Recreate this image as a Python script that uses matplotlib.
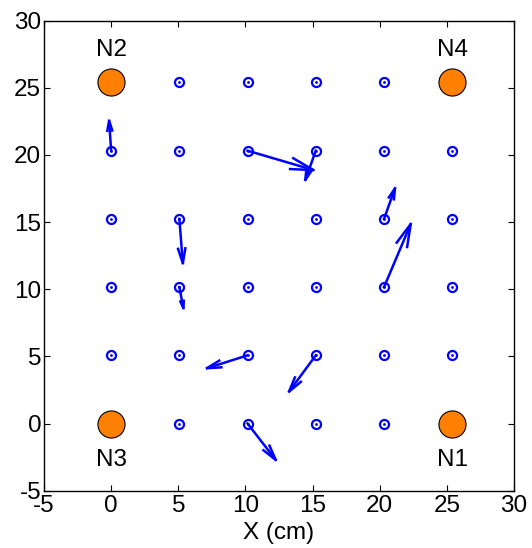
import numpy as np
import matplotlib
matplotlib.use("Agg")
import matplotlib.pyplot as plt

plt.rcParams['font.family'] = ['Liberation Sans', 'DejaVu Sans']
plt.rcParams['axes.unicode_minus'] = False

# Sensor grid (2-inch spacing in cm)
grid_vals = [0, 5.08, 10.16, 15.24, 20.32, 25.4]

# Node (anchor) positions and labels
node_x = [25.4, 0, 0, 25.4]
node_y = [0, 25.4, 0, 25.4]
node_labels = ["N1", "N2", "N3", "N4"]
node_label_y = [-2.7, 27.8, -2.7, 27.8]

# Error vectors: start points and displacement
arrow_x = [0, 10.16, 15.24, 5.08, 5.08, 20.32, 20.32, 10.16, 15.24, 10.16]
arrow_y = [20.32, 20.32, 20.32, 15.24, 10.16, 15.24, 10.16, 5.08, 5.08, 0]
arrow_u = [-0.15, 4.90, -0.78, 0.26, 0.30, 0.82, 1.99, -3.03, -1.99, 2.10]
arrow_v = [2.23, -1.44, -2.18, -3.30, -1.56, 2.28, 4.70, -0.96, -2.70, -2.71]

xticks = [-5, 0, 5, 10, 15, 20, 25, 30]
yticks = [-5, 0, 5, 10, 15, 20, 25, 30]

fig = plt.figure(figsize=(5.32, 5.48), dpi=100)
ax = fig.add_axes([44/532, 1 - 490.7/548, (514-44)/532, (490.7-20.7)/548])

blue = (0, 0, 1)
orange = (1, 0.5, 0)

# grid points (excluding node corners)
gx, gy = [], []
for xv in grid_vals:
    for yv in grid_vals:
        if (xv in (0, 25.4)) and (yv in (0, 25.4)):
            continue
        gx.append(xv)
        gy.append(yv)
ax.plot(gx, gy, 'o', ms=6.5, mfc='none', mec=blue, mew=1.6, zorder=3)
ax.plot(gx, gy, '.', ms=2, color=blue, zorder=3)

# arrows MATLAB quiver-style
alpha, beta = 0.33, 0.25
for x0, y0, u, v in zip(arrow_x, arrow_y, arrow_u, arrow_v):
    tx, ty = x0 + u, y0 + v
    ax.plot([x0, tx], [y0, ty], '-', color=blue, lw=1.8, zorder=4)
    b1 = (tx - alpha * (u + beta * v), ty - alpha * (v - beta * u))
    b2 = (tx - alpha * (u - beta * v), ty - alpha * (v + beta * u))
    ax.plot([b1[0], tx, b2[0]], [b1[1], ty, b2[1]], '-', color=blue, lw=1.8,
            solid_joinstyle='miter', zorder=4)

# nodes
ax.plot(node_x, node_y, 'o', ms=19.5, mfc=orange, mec='black', mew=0.8, zorder=5)
for x, y, lab in zip(node_x, node_label_y, node_labels):
    ax.text(x, y, lab, ha='center', va='center', fontsize=17.5)

ax.set_xlim(-5, 30)
ax.set_ylim(-5, 30)
ax.set_xticks(xticks)
ax.set_yticks(yticks)
ax.tick_params(direction='in', length=4.5, width=0.8, labelsize=17.5,
               top=True, right=True, pad=3)
ax.tick_params(axis='y', pad=2)
for s in ax.spines.values():
    s.set_linewidth(1.0)
ax.set_xlabel("X (cm)", fontsize=17.5, labelpad=4)

fig.savefig("out.png", dpi=100)
